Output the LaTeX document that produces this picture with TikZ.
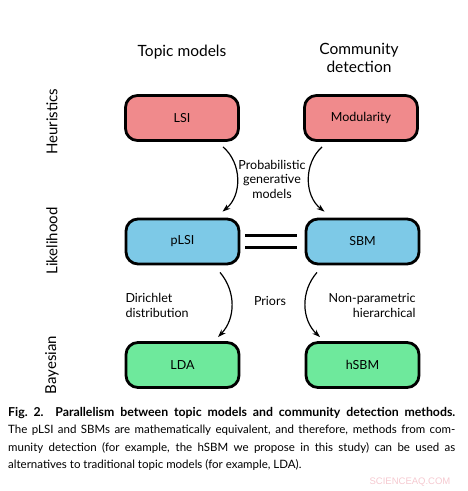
\documentclass[tikz,border=0pt]{standalone}
\usepackage{fontspec}
\setmainfont{Lato}
\newfontfamily\wmfont{Liberation Sans}
\usetikzlibrary{arrows.meta}
\definecolor{heurcol}{HTML}{F08A8C}
\definecolor{likecol}{HTML}{7DC9E7}
\definecolor{bayecol}{HTML}{6EE99C}
\definecolor{wmcol}{HTML}{F5C9D0}

\begin{document}
\begin{tikzpicture}[x=1pt,y=1pt,
    box/.style={draw=black, line width=2.8pt, rounded corners=12pt, minimum width=113pt, minimum height=45pt, font=\fontsize{12.5}{14}\selectfont},
    head/.style={font=\fontsize{15.5}{18}\selectfont, align=center},
    rowlab/.style={font=\fontsize{15}{18}\selectfont, rotate=90},
    lab/.style={font=\fontsize{12.5}{14.5}\selectfont},
    arr/.style={-{Stealth[length=8pt,width=5.5pt]}, line width=1.2pt},
    eq/.style={line width=3pt}]
      \useasboundingbox (0,0) rectangle (467,491);

      \node[head] (topic) at (182,439) {Topic models};
      \node[head] (comm) at (359,433) {Community\\detection};

      \node[rowlab] (heur) at (52,369) {Heuristics};
      \node[rowlab] (like) at (52,250) {Likelihood};
      \node[rowlab] (baye) at (52,126) {Bayesian};

      \node[box, fill=heurcol] (lsi) at (182,373) {LSI};
      \node[box, fill=heurcol] (mod) at (361,373) {Modularity};
      \node[box, fill=likecol] (plsi) at (182.5,249.5) {pLSI};
      \node[box, fill=likecol] (sbm) at (362.5,249.5) {SBM};
      \node[box, fill=bayecol] (lda) at (182.5,126) {LDA};
      \node[box, fill=bayecol] (hsbm) at (362.5,126) {hSBM};

      \draw[eq] ([xshift=5pt,yshift=6pt]plsi.east) -- ([xshift=-8pt,yshift=6pt]sbm.west);
      \draw[eq] ([xshift=5pt,yshift=-6pt]plsi.east) -- ([xshift=-8pt,yshift=-6pt]sbm.west);

      \draw[arr] ([xshift=41pt,yshift=-5pt]lsi.south) to[bend left=50] ([xshift=40pt,yshift=6pt]plsi.north);
      \draw[arr] ([xshift=-39pt,yshift=-5pt]mod.south) to[bend right=50] ([xshift=-38pt,yshift=6pt]sbm.north);
      \draw[arr] ([xshift=37.5pt,yshift=-7pt]plsi.south) to[bend left=42] ([xshift=35.5pt,yshift=4pt]lda.north);
      \draw[arr] ([xshift=-45.5pt,yshift=-7pt]sbm.south) to[bend right=44] ([xshift=-42.5pt,yshift=4pt]hsbm.north);

      \node[lab, align=center] (probgen) at (272,312) {Probabilistic\\generative\\models};
      \node[lab, align=left, anchor=west] (dir) at (122,185.5) {Dirichlet\\distribution};
      \node[lab] (prior) at (270,190) {Priors};
      \node[lab, align=right, anchor=east] (nonpar) at (419,185.5) {Non-parametric\\hierarchical};

      \node[anchor=north west, inner sep=0pt, text width=447pt, align=justify, font=\fontsize{11.5}{17.5}\selectfont] (capt) at (8,84)
        {{\fontsize{12.3}{17.5}\selectfont\bfseries Fig.~2.\ \ Parallelism between topic models and community detection methods.}\linebreak
        The pLSI and SBMs are mathematically equivalent, and therefore, methods from com-\linebreak
        munity detection (for example, the hSBM we propose in this study) can be used as\linebreak
        alternatives to traditional topic models (for example, LDA).\par};

      \node[font=\wmfont\fontsize{9.5}{11}\selectfont, text=wmcol] (wm) at (410,9) {SCIENCEAQ.COM};
\end{tikzpicture}
\end{document}
